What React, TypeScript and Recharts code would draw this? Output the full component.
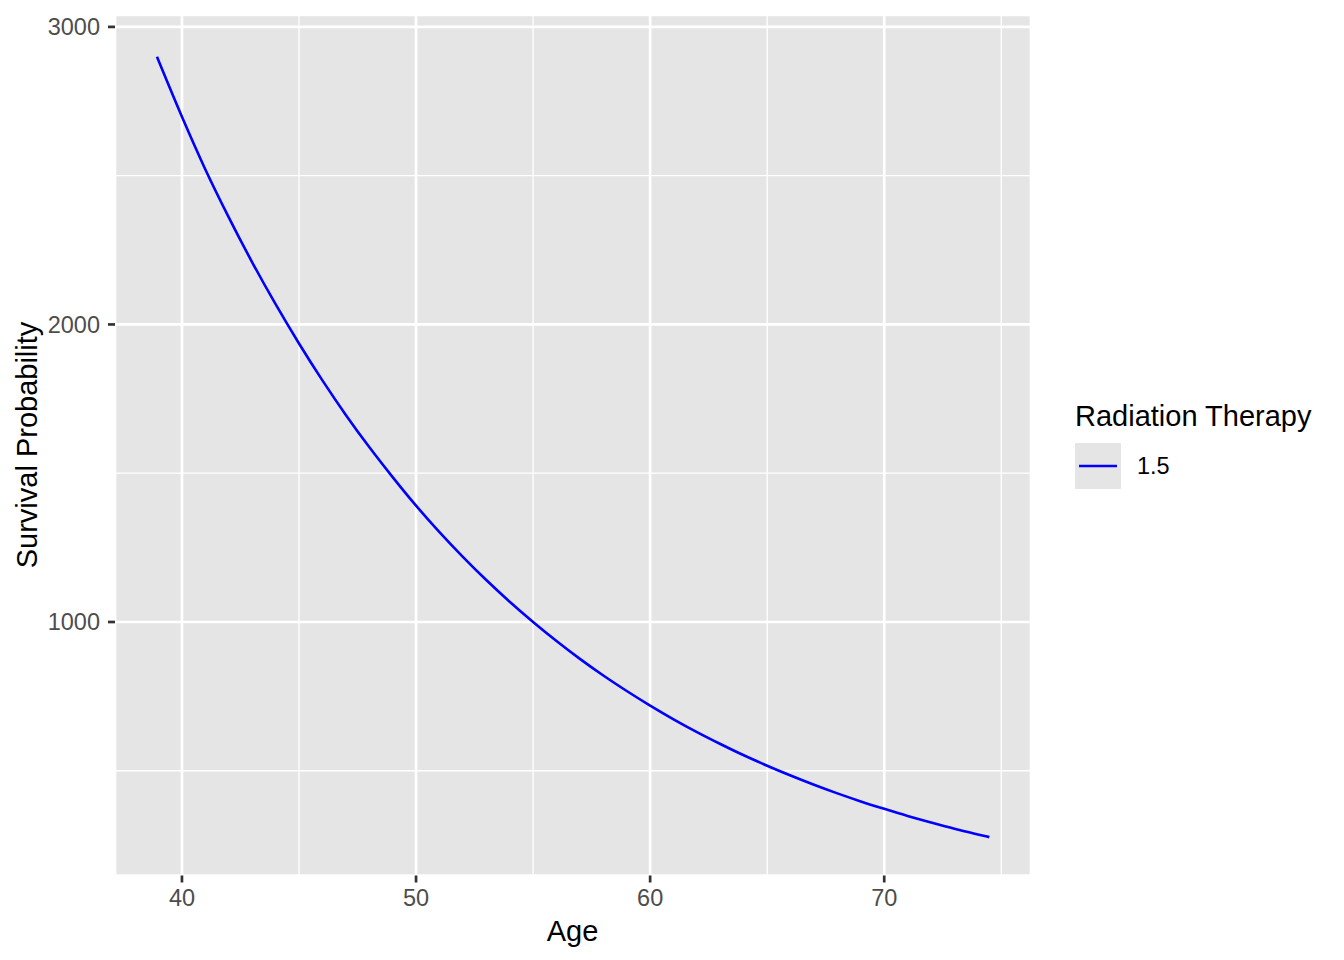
import { LineChart, Line, XAxis, YAxis, CartesianGrid } from "recharts";

// age (years)
const ages = [
  38.93, 40, 41, 42, 43, 44, 45, 46, 47, 48, 49, 50, 51, 52, 53, 54, 55, 56,
  57, 58, 59, 60, 61, 62, 63, 64, 65, 66, 67, 68, 69, 70, 71, 72, 73, 74, 74.49
];

// survival value at each age
const survival = [
  2900, 2698, 2521, 2360, 2209, 2068, 1936, 1812, 1696, 1588, 1487, 1391, 1302,
  1219, 1141, 1068, 1000, 936, 876, 820, 768, 719, 673, 630, 590, 552, 517, 484,
  453, 424, 397, 372, 348, 326, 305, 286, 277
];

const xTicks = [40, 50, 60, 70];
const yTicks = [1000, 2000, 3000];
const xMinor = [45, 55, 65, 75];
const yMinor = [500, 1500, 2500];

const xDomain = [37.14, 76.27];
const yDomain = [148, 3040];

const legendTitle = "Radiation Therapy";
const legendLabel = "1.5";

const data = ages.map((age, i) => ({ age, survival: survival[i] }));

const FONT = '"Liberation Sans", Arial, Helvetica, sans-serif';
const PANEL = "#E5E5E5";

// minor grid positions, mapped with the axis scale when it is there
const minorY = (p: any) => {
  const s = p?.yAxis?.scale;
  if (typeof s === "function") return yMinor.map((v) => s(v));
  const o = p.offset;
  return yMinor.map(
    (v) => o.top + (1 - (v - yDomain[0]) / (yDomain[1] - yDomain[0])) * o.height
  );
};
const minorX = (p: any) => {
  const s = p?.xAxis?.scale;
  if (typeof s === "function") return xMinor.map((v) => s(v));
  const o = p.offset;
  return xMinor.map(
    (v) => o.left + ((v - xDomain[0]) / (xDomain[1] - xDomain[0])) * o.width
  );
};

const XTick = (props: any) => (
  <text
    x={props.x}
    y={props.y + 5}
    dy="0.71em"
    textAnchor="middle"
    fill="#4D4D4D"
    fontSize={23.5}
    fontFamily={FONT}
  >
    {props.payload.value}
  </text>
);

const YTick = (props: any) => (
  <text
    x={props.x - 6}
    y={props.y}
    dy="0.36em"
    textAnchor="end"
    fill="#4D4D4D"
    fontSize={23.5}
    fontFamily={FONT}
  >
    {props.payload.value}
  </text>
);

export default function App() {
  return (
    <div
      style={{
        position: "absolute",
        left: 0,
        top: 0,
        width: 1344,
        height: 960,
        background: "#fff",
        fontFamily: FONT
      }}
    >
      <LineChart
        width={1344}
        height={960}
        data={data}
        margin={{ top: 15, right: 313, bottom: 0, left: 0 }}
      >
        <CartesianGrid stroke="#FFFFFF" strokeWidth={2.7} fill={PANEL} />
        <CartesianGrid
          stroke="#FFFFFF"
          strokeWidth={1.3}
          fill="none"
          horizontalCoordinatesGenerator={minorY}
          verticalCoordinatesGenerator={minorX}
        />
        <XAxis
          dataKey="age"
          type="number"
          domain={xDomain}
          ticks={xTicks}
          allowDataOverflow
          height={84.5}
          axisLine={false}
          tickSize={7}
          tickLine={{ stroke: "#333333", strokeWidth: 2.7 }}
          tick={<XTick />}
        />
        <YAxis
          type="number"
          domain={yDomain}
          ticks={yTicks}
          allowDataOverflow
          width={115}
          axisLine={false}
          tickSize={7}
          tickLine={{ stroke: "#333333", strokeWidth: 2.7 }}
          tick={<YTick />}
        />
        <Line
          dataKey="survival"
          type="monotone"
          stroke="#0000FF"
          strokeWidth={2.6}
          dot={false}
          activeDot={false}
          isAnimationActive={false}
        />
      </LineChart>

      <svg
        width={1344}
        height={960}
        style={{ position: "absolute", left: 0, top: 0, pointerEvents: "none" }}
      >
        <text x={572.5} y={941} textAnchor="middle" fontSize={29} fill="#000">
          Age
        </text>
        <text
          x={36.5}
          y={445}
          transform="rotate(-90, 36.5, 445)"
          textAnchor="middle"
          fontSize={29}
          fill="#000"
        >
          Survival Probability
        </text>
        <text x={1075} y={426} fontSize={29} fill="#000">
          {legendTitle}
        </text>
        <rect x={1075} y={443} width={46} height={46} fill={PANEL} />
        <line x1={1079} x2={1117} y1={466} y2={466} stroke="#0000FF" strokeWidth={2.6} />
        <text x={1137} y={466} dy="0.36em" fontSize={23.5} fill="#000">
          {legendLabel}
        </text>
      </svg>
    </div>
  );
}
